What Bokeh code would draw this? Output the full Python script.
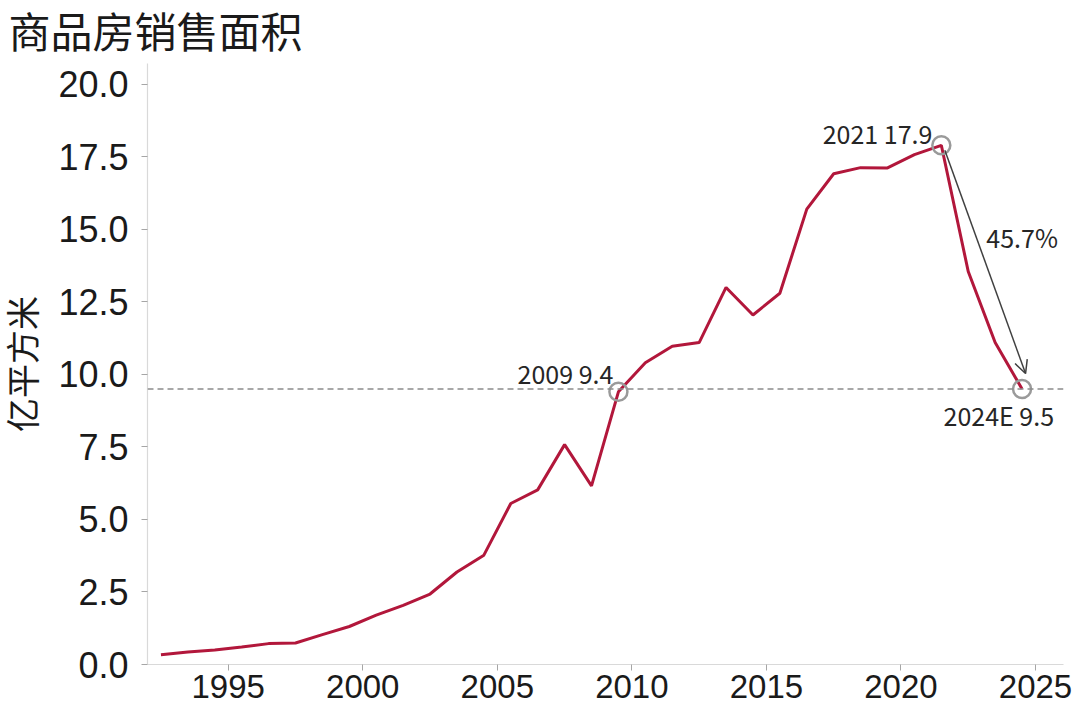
from bokeh.plotting import figure
from bokeh.models import (Range1d, FixedTicker, NumeralTickFormatter, Span, Label,
                          Arrow, OpenHead, ColumnDataSource)
from bokeh.embed import file_html
from bokeh.resources import INLINE

# ---- data -------------------------------------------------------------
years = list(range(1992, 2025))
area = [0.34, 0.43, 0.50, 0.60, 0.72, 0.74, 1.03, 1.31, 1.70, 2.04,
        2.43, 3.19, 3.77, 5.55, 6.02, 7.58, 6.16, 9.4, 10.4, 10.97,
        11.1, 13.0, 12.05, 12.8, 15.7, 16.92, 17.13, 17.12, 17.58, 17.9,
        13.55, 11.1, 9.5]
x_ticks = [1995, 2000, 2005, 2010, 2015, 2020, 2025]
y_ticks = [0, 2.5, 5, 7.5, 10, 12.5, 15, 17.5, 20]
highlight_years = [2009, 2021, 2024]
highlight_labels = ["2009 9.4", "2021 17.9", "2024E 9.5"]
drop_label = "45.7%"
title_text = "商品房销售面积"
y_title = "亿平方米"

# points are drawn at the middle of each year interval
xs = [y + 0.5 for y in years]
val = dict(zip(years, area))

CJK = "Noto Sans CJK SC"
CJK_TIGHT = "'Liberation Sans', 'Noto Sans CJK SC'"
LINE_RED = "#B2173B"

FW, FH = 916, 601
LB, RB, TB, BB = 147, 9, 63, 47

p = figure(frame_width=FW, frame_height=FH, output_backend="svg", toolbar_location=None,
           x_range=Range1d(1992.0, 2026.04), y_range=Range1d(0, 20.72),
           min_border_left=LB, min_border_right=RB, min_border_top=TB,
           min_border_bottom=BB, title=title_text)
p.outline_line_color = None
p.grid.visible = False
p.background_fill_color = "white"

p.title.text_font = CJK_TIGHT
p.title.text_font_size = "42px"
p.title.text_font_style = "normal"
p.title.text_color = "#1a1a1a"
p.title.align = "left"
p.title.offset = -(LB - 8)
p.title.standoff = 14

# axes
for ax in (p.xaxis[0], p.yaxis[0]):
    ax.axis_line_color = "#D9D9D9"
    ax.axis_line_width = 1.2
    ax.major_tick_line_color = "#A6A6A6"
    ax.major_tick_in = 0
    ax.major_tick_out = 6
    ax.minor_tick_line_color = None
    ax.major_label_text_font = "Liberation Sans"
    ax.major_label_text_color = "#1a1a1a"

p.xaxis.ticker = FixedTicker(ticks=x_ticks)
p.xaxis.major_label_text_font_size = "33px"
p.xaxis.major_label_standoff = 4

p.yaxis.ticker = FixedTicker(ticks=y_ticks)
p.yaxis.formatter = NumeralTickFormatter(format="0.0")
p.yaxis.major_label_text_font_size = "36px"
p.yaxis.major_label_standoff = 13
p.yaxis.axis_label = y_title
p.yaxis.axis_label_text_font = CJK_TIGHT
p.yaxis.axis_label_text_font_size = "34px"
p.yaxis.axis_label_text_font_style = "normal"
p.yaxis.axis_label_text_color = "#1a1a1a"
p.yaxis.axis_label_standoff = 12

# reference dashed line at the 2024E level
p.add_layout(Span(location=val[2024], dimension="width", line_color="#8C8C8C",
                  line_dash="6 4", line_width=1.5))

# main series
src = ColumnDataSource(dict(x=xs, y=area))
p.line("x", "y", source=src, line_color=LINE_RED, line_width=3)

# highlighted points
hx = [y + 0.5 for y in highlight_years]
hy = [val[y] for y in highlight_years]
p.scatter(hx, hy, marker="circle", size=18, fill_color=None,
          line_color="#9A9A9A", line_width=2.5)

# arrow from 2021 peak to 2024E
p.add_layout(Arrow(end=OpenHead(size=13, line_color="#404040", line_width=1.5),
                   x_start=hx[1] + 0.13, y_start=hy[1] - 0.17,
                   x_end=hx[2] + 0.13, y_end=hy[2] + 0.53,
                   line_color="#404040", line_width=1.5))

lab_style = dict(text_font=CJK, text_font_size="25px", text_color="#262626",
                 text_baseline="alphabetic")
p.add_layout(Label(x=hx[0], y=hy[0], text=highlight_labels[0], text_align="right",
                   x_offset=-5, y_offset=19, **lab_style))
p.add_layout(Label(x=hx[1], y=hy[1], text=highlight_labels[1], text_align="right",
                   x_offset=-9, y_offset=12, **lab_style))
p.add_layout(Label(x=hx[1], y=hy[1], text=drop_label, text_align="left",
                   x_offset=45, y_offset=-92, **lab_style))
p.add_layout(Label(x=hx[2], y=hy[2], text=highlight_labels[2], text_align="right",
                   x_offset=32, y_offset=-26, **lab_style))

open("out.html", "w").write(file_html(p, INLINE))
